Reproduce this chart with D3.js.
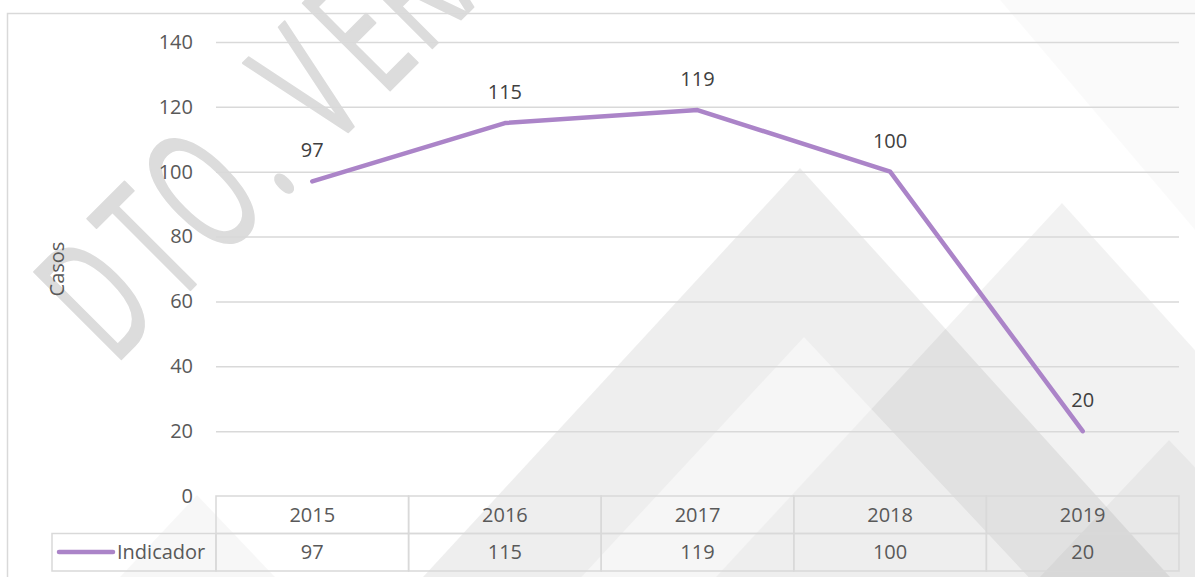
<!DOCTYPE html>
<html>
<head>
<meta charset="utf-8">
<script src="https://cdn.jsdelivr.net/npm/d3@7"></script>
<style>
  body { margin: 0; background: #fff; }
  svg { display: block; font-family: "Open Sans", sans-serif; }
</style>
</head>
<body>
<div id="chart"></div>
<script>
// data
var years = ["2015", "2016", "2017", "2018", "2019"];
var casos = [97, 115, 119, 100, 20];
var yTicks = [0, 20, 40, 60, 80, 100, 120, 140];
var seriesName = "Indicador";
var axisTitle = "Casos";
var watermark = "DTO.VERACRUZ";

var width = 1195, height = 577;
var plotL = 216, plotR = 1179, plotT = 42, plotB = 496;
var rowH = 37.5;
var purple = "#ab84c8", grid = "#d9d9d9";

var svg = d3.select("#chart").append("svg")
    .attr("width", width)
    .attr("height", height);

// background decoration (page watermark behind the chart)
var deco = svg.append("g");
var tris = [
  [[800, 168], [423, 577], [1170, 577]],
  [[1062, 203], [716, 577], [1400, 577]],
  [[804, 337], [560, 600], [1050, 600]],
  [[1169, 440], [1040, 577], [1300, 577]],
  [[197, 495], [120, 577], [275, 577]],
  [[1000, 0], [1195, 0], [1195, 230]]
];
var triOp = [0.065, 0.05, -1, 0.04, 0.03, 0.018];
deco.selectAll("path")
  .data(tris)
  .enter().append("path")
    .attr("d", function(d){ return "M" + d.join("L") + "Z"; })
    .attr("fill", function(d, i){ return triOp[i] < 0 ? "#fff" : "#000"; })
    .attr("fill-opacity", function(d, i){ return triOp[i] < 0 ? 0.45 : triOp[i]; });

var glyphX = [0, 84, 147, 236, 305, 380, 440, 500, 570, 640, 710, 780];
var sx = 0.58;
deco.append("text")
    .attr("transform", "translate(114,366) rotate(-45) scale(" + sx + ",1)")
    .attr("x", glyphX.map(function(d){ return d / sx; }).join(" "))
    .attr("y", 0)
    .attr("font-size", 172)
    .attr("fill", "#dcdcdc")
    .attr("stroke", "#dcdcdc")
    .attr("stroke-width", 2.5)
    .attr("stroke-linejoin", "round")
    .text(watermark);

// outer chart border
svg.append("rect")
    .attr("x", 7.5).attr("y", 13.5)
    .attr("width", 1300).attr("height", 700)
    .attr("fill", "none")
    .attr("stroke", grid)
    .attr("stroke-width", 1.5);

var x = d3.scaleBand().domain(years).range([plotL, plotR]);
var y = d3.scaleLinear().domain([0, 140]).range([plotB, plotT]);

// gridlines
svg.append("g")
    .attr("transform", "translate(" + plotL + ",0)")
    .call(d3.axisLeft(y).tickValues(yTicks.filter(function(d){ return d > 0; }))
          .tickSize(-(plotR - plotL)).tickFormat(""))
    .call(function(g){ g.select(".domain").remove(); })
    .selectAll("line")
      .attr("stroke", grid)
      .attr("stroke-width", 1.5);

// y axis labels
svg.append("g")
    .attr("transform", "translate(" + plotL + ",0)")
    .call(d3.axisLeft(y).tickValues(yTicks).tickSize(0).tickPadding(23))
    .call(function(g){ g.select(".domain").remove(); })
    .selectAll("text")
      .attr("font-family", "Open Sans, sans-serif")
      .attr("font-size", 20)
      .attr("fill", "#595959");

svg.append("text")
    .attr("transform", "translate(64,269) rotate(-90)")
    .attr("text-anchor", "middle")
    .attr("font-size", 20)
    .attr("fill", "#595959")
    .text(axisTitle);

// line
var pts = years.map(function(yr, i){ return {year: yr, v: casos[i]}; });
var cx = function(d){ return x(d.year) + x.bandwidth() / 2; };
var line = d3.line().x(cx).y(function(d){ return y(d.v); });

svg.append("path")
    .datum(pts)
    .attr("d", line)
    .attr("fill", "none")
    .attr("stroke", purple)
    .attr("stroke-width", 4.5)
    .attr("stroke-linecap", "round")
    .attr("stroke-linejoin", "round");

svg.selectAll("text.lbl")
  .data(pts)
  .enter().append("text")
    .attr("class", "lbl")
    .attr("x", cx)
    .attr("y", function(d){ return y(d.v) - 24; })
    .attr("text-anchor", "middle")
    .attr("font-size", 20)
    .attr("fill", "#404040")
    .text(function(d){ return d.v; });

// data table
var tbl = svg.append("g")
    .attr("fill", "none")
    .attr("stroke", grid)
    .attr("stroke-width", 1.5);

tbl.selectAll("rect.head")
  .data(years)
  .enter().append("rect")
    .attr("x", function(d){ return x(d); })
    .attr("y", plotB)
    .attr("width", x.bandwidth())
    .attr("height", rowH);

tbl.selectAll("rect.val")
  .data(years)
  .enter().append("rect")
    .attr("x", function(d){ return x(d); })
    .attr("y", plotB + rowH)
    .attr("width", x.bandwidth())
    .attr("height", rowH);

tbl.append("rect")
    .attr("x", 52)
    .attr("y", plotB + rowH)
    .attr("width", plotL - 52)
    .attr("height", rowH);

svg.selectAll("text.yr")
  .data(years)
  .enter().append("text")
    .attr("x", function(d){ return x(d) + x.bandwidth() / 2; })
    .attr("y", 522)
    .attr("text-anchor", "middle")
    .attr("font-size", 20)
    .attr("fill", "#595959")
    .text(function(d){ return d; });

svg.selectAll("text.val")
  .data(pts)
  .enter().append("text")
    .attr("x", cx)
    .attr("y", 559)
    .attr("text-anchor", "middle")
    .attr("font-size", 20)
    .attr("fill", "#595959")
    .text(function(d){ return d.v; });

// legend key in the table
svg.append("line")
    .attr("x1", 59).attr("x2", 113)
    .attr("y1", 552).attr("y2", 552)
    .attr("stroke", purple)
    .attr("stroke-width", 4.5)
    .attr("stroke-linecap", "round");

svg.append("text")
    .attr("x", 117)
    .attr("y", 559)
    .attr("font-size", 20)
    .attr("fill", "#595959")
    .text(seriesName);
</script>
</body>
</html>
